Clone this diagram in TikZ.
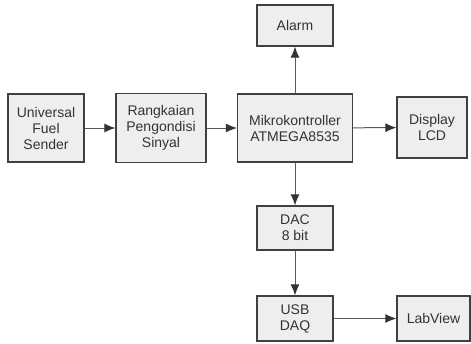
\documentclass[tikz,border=0pt]{standalone}
\usepackage{fontspec}
\setmainfont{Liberation Sans}
\usepackage{xcolor}
\usetikzlibrary{arrows.meta}
\definecolor{boxfill}{HTML}{EEEEEE}
\definecolor{boxline}{HTML}{404040}
\definecolor{wire}{HTML}{5A5A5A}

\begin{document}
\begin{tikzpicture}[x=1pt,y=-1pt,
    blok/.style={draw=boxline,fill=boxfill,line width=1.2pt,align=center,
        text=black!80,inner sep=2pt,font=\fontsize{14}{16}\selectfont},
    panah/.style={draw=wire,line width=1pt,-{Latex[length=11pt,width=9pt,color=black!80]}}]

        % Frame of the picture
        \useasboundingbox (0,0) rectangle (471,343);

        % Blocks
        \node[blok,minimum width=76pt,minimum height=68pt] (sender) at (46,128) {Universal\\Fuel\\Sender};
        \node[blok,minimum width=90pt,minimum height=69pt] (sinyal) at (161,128) {Rangkaian\\Pengondisi\\Sinyal};
        \node[blok,minimum width=115pt,minimum height=68pt] (mikro) at (295,128) {Mikrokontroller\\ATMEGA8535};
        \node[blok,minimum width=76pt,minimum height=41pt] (alarm) at (295,25.5) {Alarm};
        \node[blok,minimum width=70pt,minimum height=61pt] (lcd) at (432,127.5) {Display\\LCD};
        \node[blok,minimum width=76pt,minimum height=44pt] (dac) at (295,228) {DAC\\8 bit};
        \node[blok,minimum width=76pt,minimum height=45pt] (daq) at (295,318.5) {USB\\DAQ};
        \node[blok,minimum width=73pt,minimum height=45pt] (labview) at (433.5,318.5) {LabView};

        % Connections
        \draw[panah] (sender) -- (sinyal);
        \draw[panah] (sinyal) -- (mikro);
        \draw[panah] (mikro) -- (alarm);
        \draw[panah] (mikro) -- (lcd);
        \draw[panah] (mikro) -- (dac);
        \draw[panah] (dac) -- (daq);
        \draw[panah] (daq) -- (labview);
    \end{tikzpicture}
\end{document}
